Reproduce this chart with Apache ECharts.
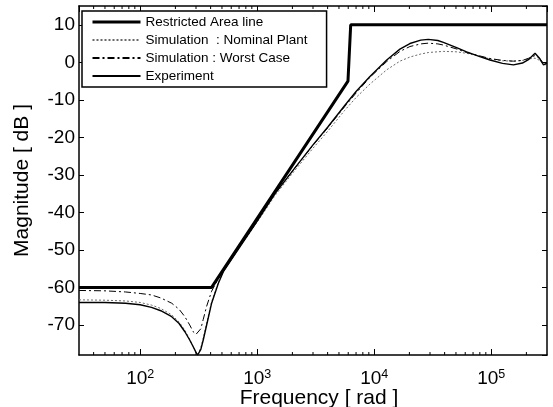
<!DOCTYPE html>
<html><head><meta charset="utf-8">
<script src="https://cdn.jsdelivr.net/npm/echarts@6/dist/echarts.min.js"></script>
<style>html,body{margin:0;padding:0;background:#fff}#c{width:553px;height:407px}</style>
</head><body><div id="c"></div>
<script>
// frequency grid [rad] shared by the three measured/simulated responses
const freqs = [30, 50, 75, 100, 125, 150, 186, 215, 241, 265,
  284, 300, 310, 330, 346, 370, 408, 466, 514, 700,
  1000, 1420, 2000, 3000, 4000, 5600, 7000, 9200, 12800, 16600,
  20200, 25000, 29000, 35000, 39000, 50000, 61700, 80000, 97700, 125000,
  155000, 185000, 210000, 237000, 260000, 280000, 300000];
const experimentDb = [-64.0, -64.0, -64.2, -64.6, -65.3, -66.2, -67.8, -69.6, -71.8, -74.0,
  -75.8, -77.3, -78.0, -76.5, -74.0, -70.0, -64.2, -58.9, -55.8, -49.5,
  -42.3, -35.0, -29.0, -22.0, -17.3, -11.5, -7.8, -3.8, 0.6, 3.5,
  5.0, 5.9, 6.1, 5.8, 5.3, 4.0, 2.8, 1.5, 0.6, -0.3,
  -0.7, -0.2, 0.8, 2.4, 1.0, -0.7, -0.3];
const worstCaseDb = [-60.8, -60.9, -61.2, -61.6, -62.0, -62.8, -64.2, -65.8, -67.8, -70.0,
  -71.8, -72.5, -72.7, -71.0, -68.5, -65.0, -61.0, -57.6, -55.4, -49.3,
  -42.2, -35.0, -29.0, -22.1, -17.5, -11.8, -8.2, -4.0, 0.2, 2.9,
  4.2, 4.9, 5.1, 4.9, 4.6, 3.6, 2.6, 1.7, 1.0, 0.5,
  0.3, 0.5, 1.1, 1.8, 1.0, -0.3, -0.2];
const nominalDb = [-63.3, -63.4, -63.6, -64.0, -64.7, -65.6, -67.3, -69.2, -71.4, -73.8,
  -75.8, -77.3, -78.0, -76.0, -73.5, -69.5, -63.8, -58.6, -55.6, -49.6,
  -42.6, -35.5, -29.6, -22.9, -18.4, -12.8, -9.4, -5.8, -2.0, 0.3,
  1.4, 2.2, 2.6, 2.8, 2.9, 2.8, 2.4, 1.6, 0.9, 0.4,
  0.3, 0.5, 0.9, 1.1, 0.5, -0.5, -0.8];
// restricted area boundary
const limitFreqs = [30, 408, 5970, 6300, 300000];
const limitDb = [-60, -60, -5, 10, 10];
// axis ranges and minor tick positions
const X_MIN = 30, X_MAX = 300000, Y_MIN = -78, Y_MAX = 15;
const xMinorTicks = [40, 50, 60, 70, 80, 90, 200, 300, 400, 500, 600, 700, 800, 900,
  2000, 3000, 4000, 5000, 6000, 7000, 8000, 9000,
  20000, 30000, 40000, 50000, 60000, 70000, 80000, 90000, 200000];
const seriesNames = ['Restricted Area line', 'Simulation  : Nominal Plant', 'Simulation : Worst Case', 'Experiment'];

const FONT = 'Liberation Sans, Arial, sans-serif';
const zip = (xs, ys) => xs.map((x, i) => [x, ys[i]]);

const chart = echarts.init(document.getElementById('c'), null, {renderer: 'canvas'});
const axisLine = {show: true, onZero: false, lineStyle: {color: '#000', width: 1.5}};
chart.setOption({
  animation: false,
  backgroundColor: '#fff',
  grid: {left: 79, right: 6, top: 6, bottom: 52, containLabel: false, outerBoundsMode: 'none'},
  legend: {
    data: [
      {name: seriesNames[0], lineStyle: {width: 3}},
      {name: seriesNames[1]},
      {name: seriesNames[2]},
      {name: seriesNames[3]}
    ],
    orient: 'vertical', left: 82, top: 11,
    padding: [4, 19, 4, 9], itemWidth: 48, itemHeight: 14, itemGap: 4,
    backgroundColor: '#fff', borderColor: '#000', borderWidth: 1.5, borderRadius: 0,
    selectedMode: false,
    itemStyle: {opacity: 0},
    textStyle: {fontSize: 13.5, color: '#000', fontFamily: FONT, lineHeight: 14}
  },
  xAxis: [{
    type: 'log', logBase: 10, min: X_MIN, max: X_MAX, position: 'bottom',
    axisLine: axisLine,
    axisTick: {show: true, inside: true, length: 6, lineStyle: {color: '#000', width: 1}},
    splitLine: {show: false}, minorTick: {show: false},
    axisLabel: {
      show: true, margin: 13, showMinLabel: false, showMaxLabel: false, color: '#000',
      fontFamily: FONT,
      formatter: v => '{b|10}{s|' + Math.round(Math.log10(v)) + '}',
      rich: {b: {fontSize: 19, fontFamily: FONT, color: '#000'},
             s: {fontSize: 12.5, fontFamily: FONT, color: '#000', padding: [0, 0, 9, 0]}}
    },
    name: 'Frequency [ rad ]', nameLocation: 'middle', nameGap: 33, nameMoveOverlap: false,
    nameTextStyle: {fontSize: 21, color: '#000', fontFamily: FONT, padding: [0, 0, 0, 12]}
  }, {
    type: 'log', logBase: 10, min: X_MIN, max: X_MAX, position: 'top',
    axisLine: axisLine,
    axisTick: {show: true, inside: true, length: 6, lineStyle: {color: '#000', width: 1}},
    axisLabel: {show: false}, splitLine: {show: false}
  }],
  yAxis: [{
    type: 'value', min: Y_MIN, max: Y_MAX, splitNumber: 9, position: 'left',
    axisLine: axisLine,
    axisTick: {show: true, inside: true, length: 5, lineStyle: {color: '#000', width: 1}},
    splitLine: {show: false},
    axisLabel: {show: true, margin: 4, showMinLabel: false, showMaxLabel: false,
      fontSize: 19, color: '#000', fontFamily: FONT},
    name: 'Magnitude [ dB ]', nameLocation: 'middle', nameGap: 46, nameMoveOverlap: false,
    nameTextStyle: {fontSize: 21, color: '#000', fontFamily: FONT}
  }, {
    type: 'value', min: Y_MIN, max: Y_MAX, splitNumber: 9, position: 'right',
    axisLine: axisLine,
    axisTick: {show: true, inside: true, length: 5, lineStyle: {color: '#000', width: 1}},
    splitLine: {show: false}, axisLabel: {show: false}
  }],
  series: [{
    name: seriesNames[1], type: 'line', data: zip(freqs, nominalDb),
    symbol: 'none', showSymbol: false, smooth: false,
    lineStyle: {color: '#6a6a6a', width: 1, type: [2, 2]}, itemStyle: {color: '#6a6a6a'}, z: 3
  }, {
    name: seriesNames[2], type: 'line', data: zip(freqs, worstCaseDb),
    symbol: 'none', showSymbol: false,
    lineStyle: {color: '#000', width: 1, type: [7, 3, 2, 3]}, itemStyle: {color: '#000'}, z: 4
  }, {
    name: seriesNames[3], type: 'line', data: zip(freqs, experimentDb),
    symbol: 'none', showSymbol: false,
    lineStyle: {color: '#000', width: 1.4}, itemStyle: {color: '#000'}, z: 5
  }, {
    name: seriesNames[0], type: 'line', data: zip(limitFreqs, limitDb),
    symbol: 'none', showSymbol: false,
    lineStyle: {color: '#000', width: 3}, itemStyle: {color: '#000'}, z: 6
  }, {
    name: 'minorTicks', type: 'custom', data: xMinorTicks.map(f => [f]),
    encode: {x: 0}, silent: true, clip: false, z: 7,
    renderItem: (params, api) => {
      const f = api.value(0);
      const b = api.coord([f, Y_MIN]);
      const t = api.coord([f, Y_MAX]);
      return {type: 'group', children: [
        {type: 'line', shape: {x1: b[0], y1: b[1], x2: b[0], y2: b[1] - 3}, style: {stroke: '#000', lineWidth: 1}},
        {type: 'line', shape: {x1: t[0], y1: t[1], x2: t[0], y2: t[1] + 3}, style: {stroke: '#000', lineWidth: 1}}
      ]};
    }
  }]
});
</script></body></html>
